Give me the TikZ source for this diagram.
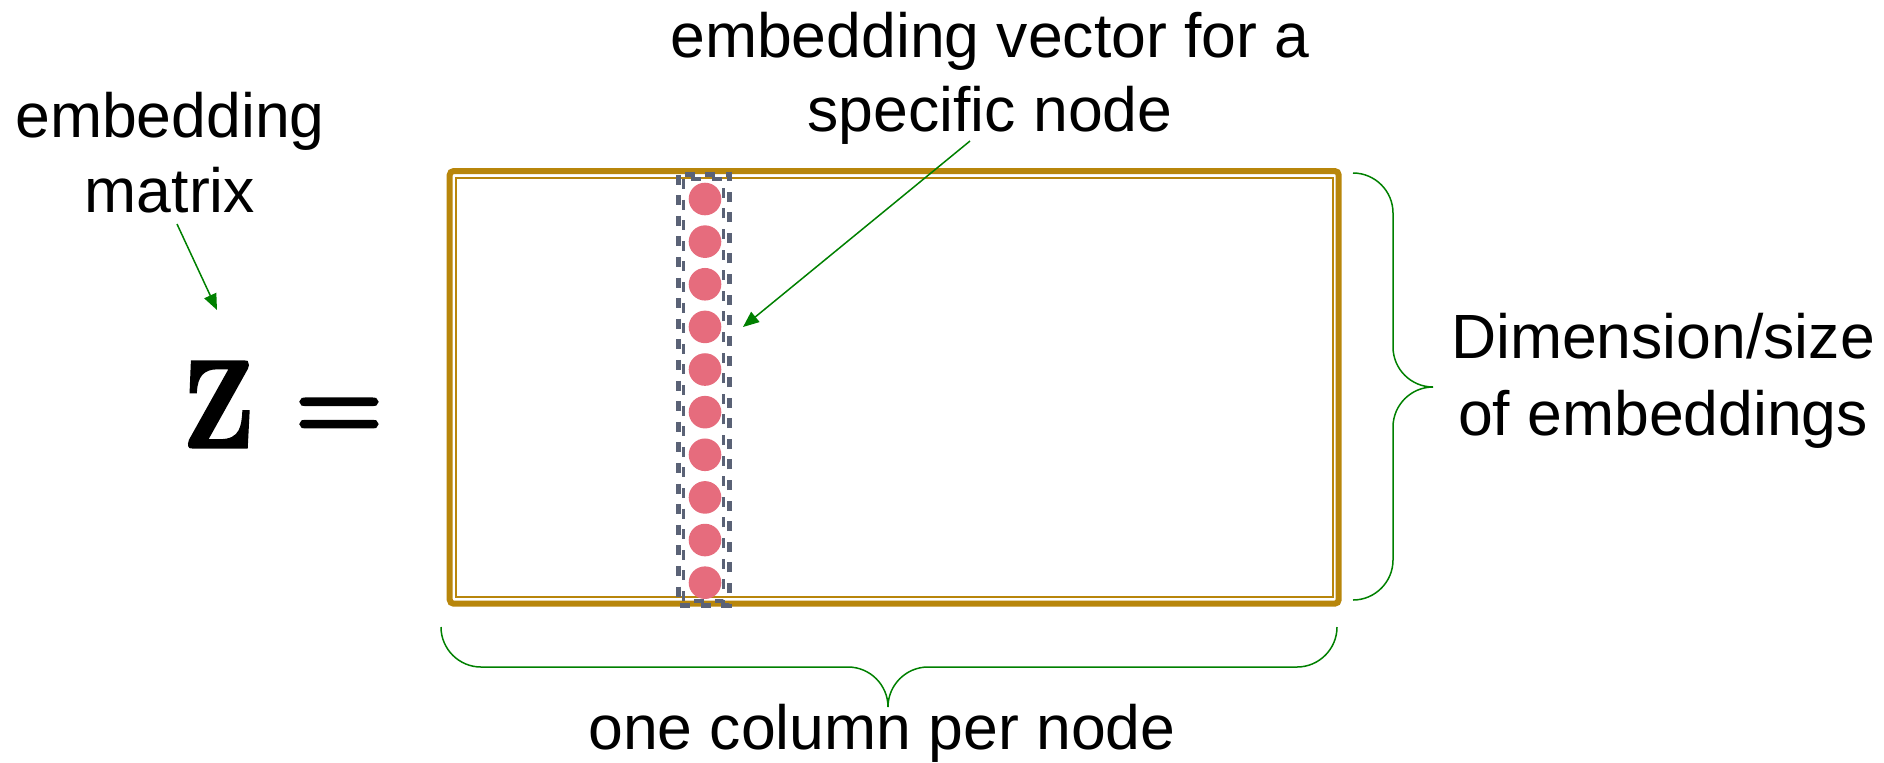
\documentclass[tikz,border=0pt]{standalone}
\usepackage{fontspec}
\newfontfamily\labelfont{Liberation Sans}
\newfontface\zfont{lmroman10-bold.otf}[FakeBold=2.5]
\usetikzlibrary{arrows.meta}
\definecolor{gold}{RGB}{184,134,11}
\definecolor{slate}{RGB}{90,98,118}
\definecolor{dotred}{RGB}{230,108,125}
\definecolor{arrowgreen}{RGB}{0,128,0}
\begin{document}
\begin{tikzpicture}[x=0.5pt,y=-0.5pt,
  txt/.style={font=\labelfont\fontsize{31.25}{37.2}\selectfont, inner sep=0pt, align=center, anchor=base},
  pointer/.style={draw=arrowgreen, line width=0.75pt, -{Triangle[length=8pt,width=6.5pt]}},
  brace/.style={draw=arrowgreen, line width=0.75pt},
  dot/.style={circle, fill=dotred, minimum size=16.3pt, inner sep=0pt},
  frameouter/.style={draw=gold, line width=3pt, rounded corners=2pt},
  frameinner/.style={draw=gold, line width=1pt},
  colouter/.style={draw=slate, line width=2.5pt, dash pattern=on 5pt off 5.3pt},
  colinner/.style={draw=slate, line width=1.65pt, dash pattern=on 5pt off 5.3pt}]
\useasboundingbox (0,0) rectangle (1884,762);

% labels (anchor = baseline of the last line)
\node[txt] (vec) at (990,131.7) {embedding vector for a\\specific node};
\node[txt] (emb) at (170,212) {embedding\\matrix};
\node[txt, font=\labelfont\fontsize{31.25}{38.5}\selectfont] (dim) at (1663,435) {Dimension/size\\of embeddings};
\node[txt] (col) at (882,749) {one column per node};

% Z =
\node[inner sep=0pt, anchor=base, font=\zfont\fontsize{62}{62}\selectfont] (Z) at (218.5,447) {\scalebox{0.82}[1]{Z}};
\node[inner sep=0pt, anchor=base, font=\zfont\fontsize{50}{50}\selectfont] (eq) at (339,438) {=};

% matrix frame
\draw[frameouter] (449.7,171) rectangle (1338.7,603.7);
\draw[frameinner] (456.3,177.7) rectangle (1332.7,597);

% column box
\draw[colouter] (678.3,174.5) rectangle (729.2,605.5);
\draw[colinner] (683.3,179) rectangle (723.3,601);
\foreach \i in {0,...,9}
  \node[dot] (d\i) at (705,{199+42.63*\i}) {};

% arrows
\coordinate (vecstart) at (970,141);
\coordinate (vecend) at (743,327);
\draw[pointer] (vecstart) -- (vecend);
\coordinate (embstart) at (177,224);
\coordinate (embend) at (217,310);
\draw[pointer] (embstart) -- (embend);

% braces
\draw[brace] (1353,173) .. controls (1375,173) and (1393,191) .. (1393,213) -- (1393,347)
  .. controls (1393,369) and (1411,387) .. (1433,387)
  .. controls (1411,387) and (1393,405) .. (1393,427) -- (1393,560)
  .. controls (1393,582) and (1375,600) .. (1353,600);
\draw[brace] (441,627) .. controls (441,649) and (459,667) .. (481,667) -- (848,667)
  .. controls (870,667) and (888,685) .. (888,707)
  .. controls (888,685) and (906,667) .. (928,667) -- (1297,667)
  .. controls (1319,667) and (1337,649) .. (1337,627);
\end{tikzpicture}
\end{document}
